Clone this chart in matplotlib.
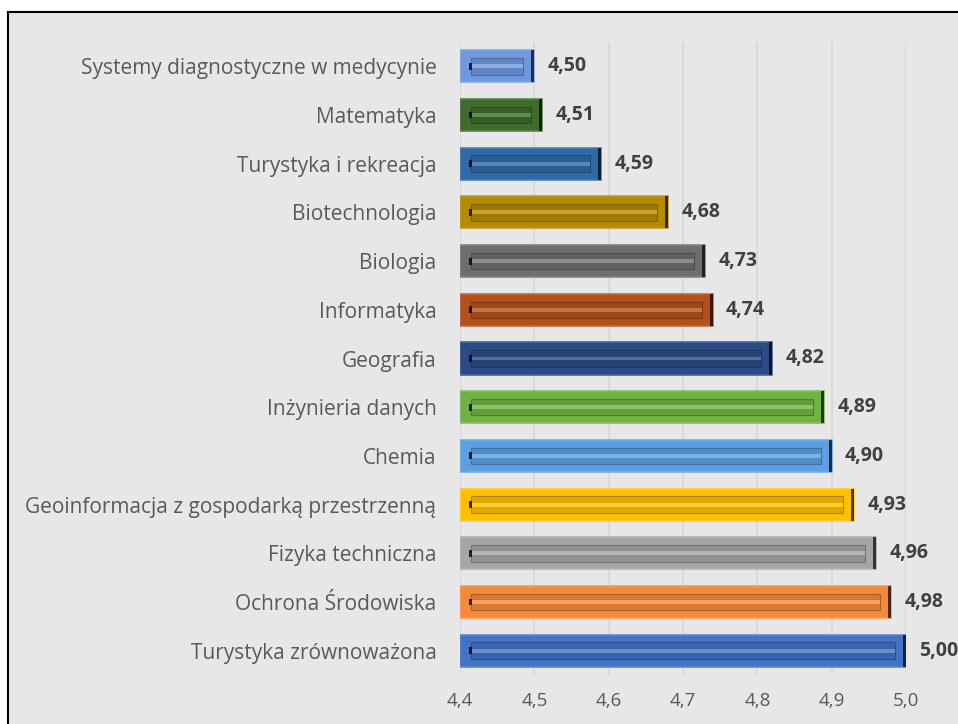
import matplotlib.pyplot as plt
from matplotlib.patches import Rectangle
from matplotlib.colors import to_rgb
import numpy as np

# dane
kierunki = [
    'Systemy diagnostyczne w medycynie', 'Matematyka', 'Turystyka i rekreacja',
    'Biotechnologia', 'Biologia', 'Informatyka', 'Geografia',
    'Inżynieria danych', 'Chemia', 'Geoinformacja z gospodarką przestrzenną',
    'Fizyka techniczna', 'Ochrona Środowiska', 'Turystyka zrównoważona'
]
oceny = [4.50, 4.51, 4.59, 4.68, 4.73, 4.74, 4.82, 4.89, 4.90, 4.93, 4.96, 4.98, 5.00]
kolory = ['#6d99de', '#3f6b2b', '#2d6aa7', '#b58b00', '#6e6e6e', '#b4511b',
          '#2b4b87', '#70b244', '#5ca0e2', '#ffc000', '#a5a5a5', '#f5893a', '#4472c4']
x_ticks = [4.4, 4.5, 4.6, 4.7, 4.8, 4.9, 5.0]

plt.rcParams['font.family'] = ['Open Sans', 'DejaVu Sans']

fig = plt.figure(figsize=(9.58, 7.24), dpi=100)
fig.patch.set_facecolor('white')
# tło wykresu z czarną ramką
fig.patches.append(Rectangle((8 / 958, -0.1), 1.1, (724 - 12) / 724 + 0.1,
                             transform=fig.transFigure, facecolor='#e7e7e7',
                             edgecolor='black', linewidth=1.5, zorder=-5))

ax = fig.add_axes([460 / 958, 49 / 724, (906 - 460) / 958, (682 - 49) / 724])
ax.set_facecolor('none')

y = np.arange(len(kierunki))
xmin = 4.4

def ciemniej(c, f):
    return tuple(v * f for v in to_rgb(c))

def jasniej(c, f):
    return tuple(v + (1 - v) * f for v in to_rgb(c))

szer = np.array(oceny) - xmin
# główny słupek
ax.barh(y, szer, left=xmin, height=0.66, color=kolory,
        edgecolor=[jasniej(c, 0.15) for c in kolory], linewidth=1.2, zorder=3)
# efekt fazowania - wewnętrzny pasek
ax.barh(y, szer - 0.03, left=xmin + 0.015, height=0.34,
        color=[ciemniej(c, 0.88) for c in kolory],
        edgecolor=[ciemniej(c, 0.7) for c in kolory], linewidth=0.8, zorder=4)
ax.barh(y, szer - 0.03, left=xmin + 0.015, height=0.08,
        color=[jasniej(c, 0.2) for c in kolory], linewidth=0, zorder=5)
# ciemna prawa krawędź i lewy znacznik
ax.barh(y, 0.004, left=np.array(oceny) - 0.004, height=0.66,
        color=[ciemniej(c, 0.3) for c in kolory], linewidth=0, zorder=6)
ax.barh(y, 0.004, left=xmin + 0.012, height=0.14,
        color=[ciemniej(c, 0.2) for c in kolory], linewidth=0, zorder=6)

for yi, v in zip(y, oceny):
    ax.text(v + 0.018, yi, f'{v:.2f}'.replace('.', ','), va='center', ha='left',
            fontsize=14, fontweight='bold', color='#404040', zorder=7)

ax.set_xlim(4.4, 5.0)
ax.set_ylim(len(kierunki) - 0.5, -0.5)
ax.set_xticks(x_ticks)
ax.set_xticklabels([f'{t:.1f}'.replace('.', ',') for t in x_ticks])
ax.set_yticks(y)
ax.set_yticklabels(kierunki)
ax.tick_params(axis='both', length=0, colors='#595959')
ax.tick_params(axis='y', pad=17, labelsize=15)
ax.tick_params(axis='x', pad=12, labelsize=13.5)
ax.grid(axis='x', color='#d9d9d9', linewidth=1.5, zorder=0)
for s in ax.spines.values():
    s.set_visible(False)

plt.savefig('out.png', dpi=100)
